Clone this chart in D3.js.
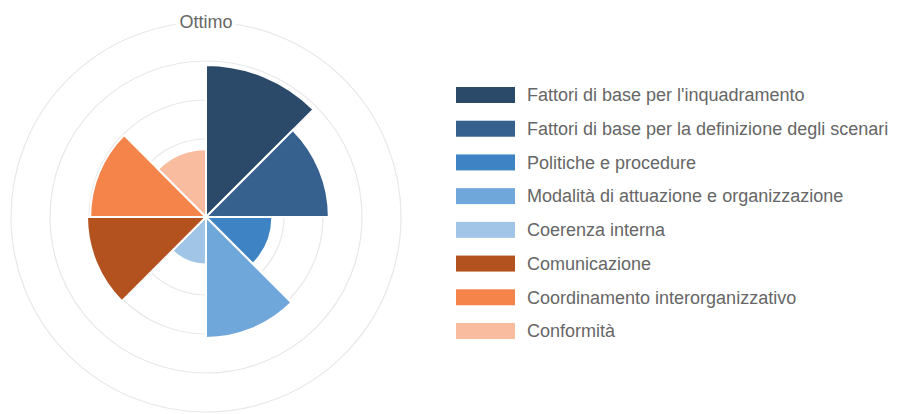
<!doctype html>
<html lang="it">
<head>
    <meta charset="UTF-8" />
    <title>Polar Area</title>
    <script src="https://d3js.org/d3.v7.min.js"></script>
    <style>
        body, html {
            margin: 0;
            padding: 0;
            background: #fff;
            overflow: hidden;
        }
        svg {
            display: block;
            font-family: "Liberation Sans", Arial, sans-serif;
        }
        .grid {
            fill: none;
            stroke: #e8e8e8;
            stroke-width: 1.2px;
        }
        .slice {
            stroke: #fff;
            stroke-width: 2px;
        }
        .legend text {
            fill: #666;
            font-size: 18px;
        }
    </style>
</head>
<body>
    <svg id="chart" width="897" height="414"></svg>
    <script>
        const categories = [
            "Fattori di base per l'inquadramento",
            "Fattori di base per la definizione degli scenari",
            "Politiche e procedure",
            "Modalità di attuazione e organizzazione",
            "Coerenza interna",
            "Comunicazione",
            "Coordinamento interorganizzativo",
            "Conformità"
        ];
        const values = [3.9, 3.15, 1.7, 3.1, 1.22, 3.05, 2.97, 1.74];
        const colors = ["#2b4a6a", "#36618e", "#3e84c5", "#70a7db", "#a0c5e7", "#b4521f", "#f4844a", "#f9bc9e"];
        const ticks = [1, 2, 3, 4, 5];
        const tickLabels = ["", "", "", "", "Ottimo"];

        const svg = d3.select("#chart");
        const cx = 206, cy = 217;

        const r = d3.scaleLinear().domain([0, 5]).range([0, 195]);
        const angle = d3.scaleBand().domain(categories).range([0, 2 * Math.PI]).padding(0);

        const g = svg.append("g").attr("transform", `translate(${cx},${cy})`);

        // grid rings
        g.selectAll("circle.grid")
            .data(ticks)
            .join("circle")
            .attr("class", "grid")
            .attr("r", d => r(d));

        // slices
        const arc = d3.arc()
            .innerRadius(0)
            .outerRadius(d => r(d.value))
            .startAngle(d => angle(d.cat))
            .endAngle(d => angle(d.cat) + angle.bandwidth());

        g.selectAll("path.slice")
            .data(categories.map((c, i) => ({ cat: c, value: values[i], color: colors[i] })))
            .join("path")
            .attr("class", "slice")
            .attr("d", arc)
            .attr("fill", d => d.color);

        // tick labels (only the top one shows)
        const lab = g.selectAll("g.tick")
            .data(ticks.map((t, i) => ({ t, label: tickLabels[i] })).filter(d => d.label))
            .join("g")
            .attr("class", "tick")
            .attr("transform", d => `translate(0,${-r(d.t)})`);
        lab.each(function (d) {
            const s = d3.select(this);
            const txt = s.append("text")
                .attr("text-anchor", "middle")
                .attr("dy", "0.35em")
                .attr("fill", "#666")
                .attr("font-size", 18)
                .text(d.label);
            const bb = txt.node().getBBox();
            s.insert("rect", "text")
                .attr("x", bb.x - 3)
                .attr("y", bb.y)
                .attr("width", bb.width + 6)
                .attr("height", bb.height)
                .attr("fill", "#fff");
        });

        // legend
        const ly = d3.scalePoint().domain(categories).range([95, 331]);
        const legend = svg.append("g").attr("class", "legend");
        const item = legend.selectAll("g")
            .data(categories)
            .join("g")
            .attr("transform", d => `translate(456,${ly(d)})`);
        item.append("rect")
            .attr("x", 0)
            .attr("y", -8)
            .attr("width", 59)
            .attr("height", 16)
            .attr("fill", (d, i) => colors[i]);
        item.append("text")
            .attr("x", 71)
            .attr("dy", "0.35em")
            .text(d => d);
    </script>
</body>
</html>
